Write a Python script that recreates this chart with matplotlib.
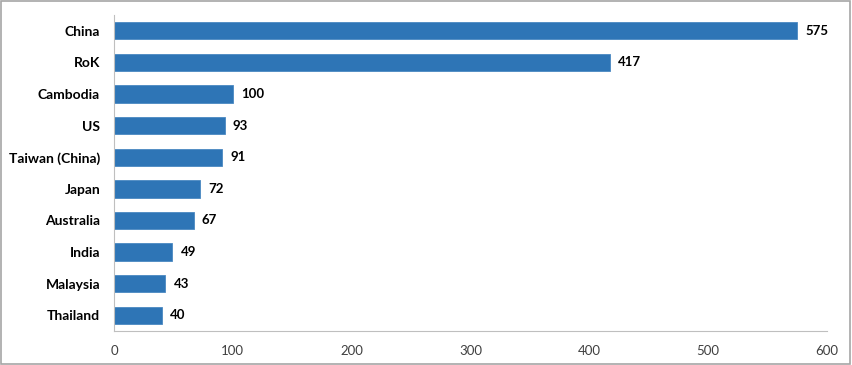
import matplotlib
matplotlib.use("Agg")
import matplotlib.pyplot as plt
from matplotlib.patches import Rectangle

plt.rcParams["font.family"] = ["Lato", "DejaVu Sans"]

# Datos
paises = ["China", "RoK", "Cambodia", "US", "Taiwan (China)", "Japan",
          "Australia", "India", "Malaysia", "Thailand"]
valores = [575, 417, 100, 93, 91, 72, 67, 49, 43, 40]
xticks = [0, 100, 200, 300, 400, 500, 600]

fig = plt.figure(figsize=(8.52, 3.65), dpi=100)
ax = fig.add_axes([0.1338, 0.093, 0.8369, 0.866])

pos = list(range(len(paises)))[::-1]
ax.barh(pos, valores, height=0.55, color="#2E75B6", edgecolor="#4A88C2", linewidth=0.6)

for p, v in zip(pos, valores):
    ax.text(v + 7, p, str(v), va="center", ha="left", fontsize=9.5, fontweight="bold", color="black")

ax.set_yticks(pos)
ax.set_yticklabels(paises, fontsize=10, fontweight="bold")
ax.set_xticks(xticks)
ax.set_xticklabels([str(t) for t in xticks], fontsize=9.5, color="#404040")
ax.set_xlim(0, 600)
ax.set_ylim(-0.5, len(paises) - 0.5)

ax.tick_params(axis="y", length=0, pad=10)
ax.tick_params(axis="x", length=0, pad=10)
for s in ["top", "right"]:
    ax.spines[s].set_visible(False)
ax.spines["left"].set_color("#BFBFBF")
ax.spines["bottom"].set_color("#BFBFBF")
ax.spines["left"].set_linewidth(0.8)
ax.spines["bottom"].set_linewidth(0.8)

# borde exterior
fig.patches.append(Rectangle((0.001, 0.002), 0.997, 0.995, transform=fig.transFigure,
                             fill=False, edgecolor="#A6A6A6", linewidth=1.2))

plt.savefig("out.png", dpi=100)
